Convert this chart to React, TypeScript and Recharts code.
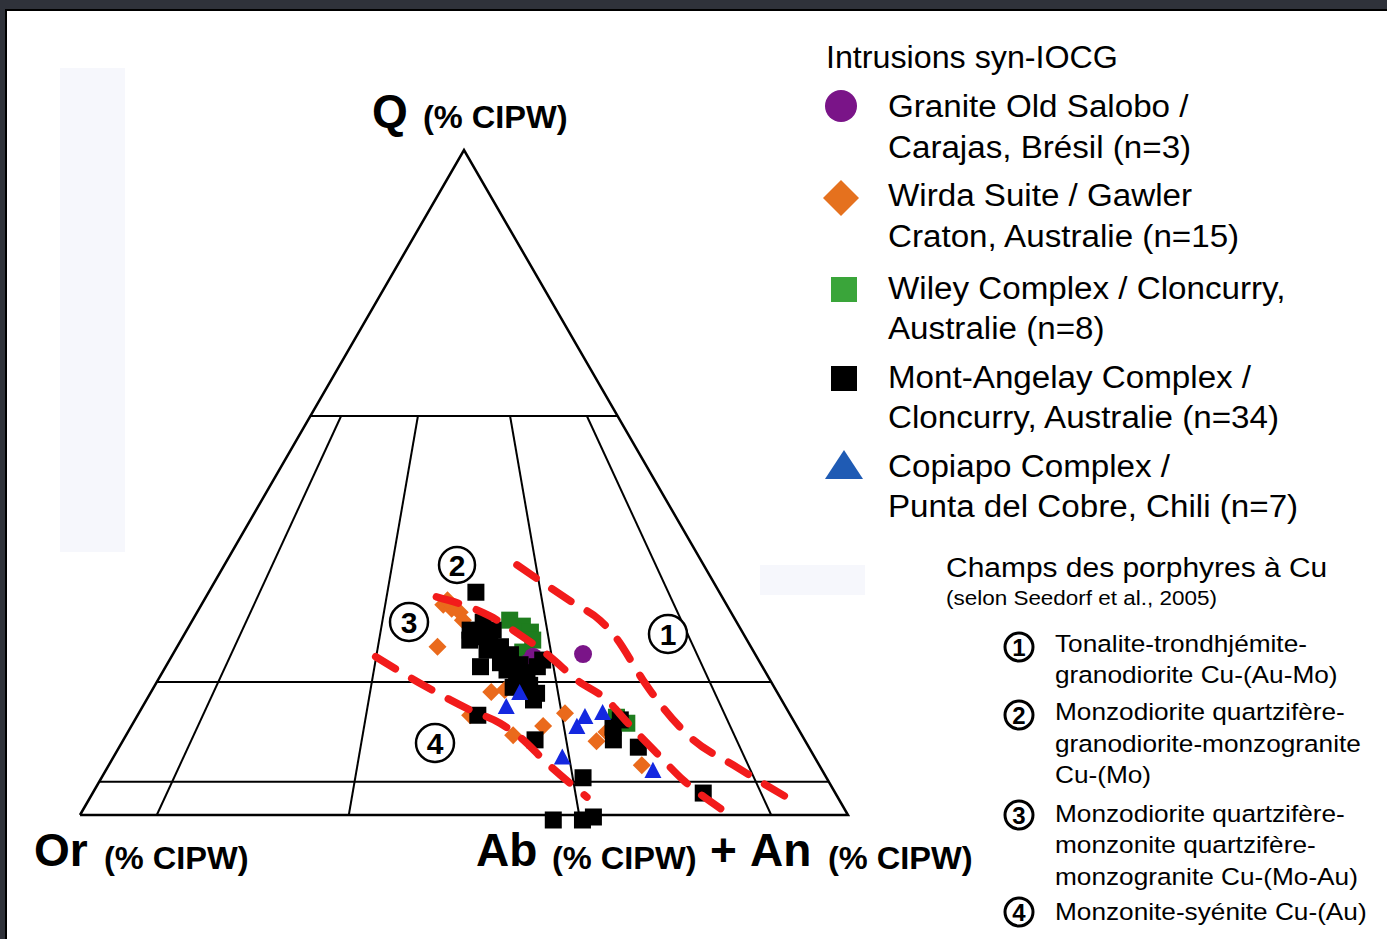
import React from 'react';
import { ScatterChart, Scatter, XAxis, YAxis } from 'recharts';

const W = 1387;
const H = 939;
const FONT = '"Liberation Sans", Arial, sans-serif';

// compositions: [Q %, Ab+An %] (Or = remainder)
const oldSalobo = [[24.2, 53.4], [23.8, 47.1], [22.9, 46.9]];
const wirdaSuite = [
  [31.6, 31.5], [31.0, 32.9], [30.5, 34.2], [29.3, 35.2], [25.3, 33.9],
  [18.5, 44.3], [15.0, 43.3], [12.0, 50.4], [13.4, 53.6], [15.3, 55.5],
  [11.1, 61.7], [7.5, 69.4], [32.3, 31.7], [18.8, 45.9], [12.5, 62.3]
];
const wileyComplex = [
  [29.3, 41.3], [28.4, 43.4], [27.5, 44.9], [26.3, 45.8],
  [24.5, 45.4], [23.0, 45.7], [14.7, 62.5], [13.8, 64.3]
];
const montAngelay = [
  [33.5, 34.8], [27.8, 36.9], [26.8, 38.3], [27.8, 39.9], [25.3, 42.1],
  [24.8, 40.6], [22.3, 41.0], [22.9, 43.3], [21.8, 44.7], [20.3, 46.7],
  [21.4, 47.5], [22.3, 48.4], [23.3, 48.6], [18.8, 48.3], [18.3, 50.3],
  [17.3, 50.4], [19.2, 46.8], [15.0, 44.3], [11.3, 53.6], [5.6, 62.7],
  [-0.75, 62.0], [-0.75, 65.8], [-0.3, 67.0], [13.2, 62.8], [11.3, 63.8],
  [10.2, 67.6], [14.3, 63.2], [3.3, 79.5], [29.0, 38.0], [26.3, 40.2],
  [24.1, 44.0], [22.6, 46.0], [19.5, 48.8], [26.3, 37.6]
];
const copiapo = [
  [18.3, 48.1], [16.2, 47.4], [14.7, 58.4], [13.2, 58.1],
  [15.3, 60.4], [8.6, 58.5], [6.6, 71.3]
];

// porphyry Cu field boundaries (Seedorf et al., 2005)
const boundaryA = [
  [37.6, 38.1], [31.9, 48.25], [29.3, 53.05], [26.8, 56.3], [20.3, 63.15],
  [17.3, 66.5], [11.7, 73.6], [7.2, 81.9], [1.95, 92.1]
];
const boundaryB = [
  [32.8, 30.0], [29.9, 38.45], [27.4, 43.2], [23.8, 49.3], [20.3, 54.55],
  [17.3, 59.95], [14.0, 64.2], [9.3, 70.45], [5.3, 75.85], [0.75, 83.3]
];
const boundaryC = [
  [23.8, 26.6], [19.2, 35.6], [15.8, 42.9], [13.8, 47.8],
  [11.7, 51.45], [7.8, 56.9], [2.7, 64.65]
];

// QAP grid
const qLevels = [60, 20, 5];
const plagRatios = [10, 35, 65, 90];
const ratioTopQ = 60;

const legendTitle = 'Intrusions syn-IOCG';
const legendLabels = [
  ['Granite Old Salobo /', 'Carajas, Brésil (n=3)'],
  ['Wirda Suite / Gawler', 'Craton, Australie (n=15)'],
  ['Wiley Complex / Cloncurry,', 'Australie (n=8)'],
  ['Mont-Angelay Complex /', 'Cloncurry, Australie (n=34)'],
  ['Copiapo Complex /', 'Punta del Cobre, Chili (n=7)']
];
const fieldTitle = 'Champs des porphyres à Cu';
const fieldSource = '(selon Seedorf et al., 2005)';
const fieldLabels = [
  ['Tonalite-trondhjémite-', 'granodiorite Cu-(Au-Mo)'],
  ['Monzodiorite quartzifère-', 'granodiorite-monzogranite', 'Cu-(Mo)'],
  ['Monzodiorite quartzifère-', 'monzonite quartzifère-', 'monzogranite Cu-(Mo-Au)'],
  ['Monzonite-syénite Cu-(Au)']
];

const toXY = (d: number[]) => ({ x: d[1] + d[0] / 2, y: d[0] });

const triangle = [[0, 0], [0, 100], [100, 0], [0, 0]].map(toXY);
const hLines = qLevels.map(q => [toXY([q, 0]), toXY([q, 100 - q])]);
const rLines = plagRatios.map(r => [
  toXY([ratioTopQ, (r / 100) * (100 - ratioTopQ)]),
  toXY([0, r])
]);

// pixel frame of the triangle: Or corner at (80,815), Ab+An at (848,815), Q at y=150
const PX = 7.68;
const PY = 6.65;
const xDomain = [-80 / PX, (W - 80) / PX];
const yDomain = [-(H - 815) / PY, 815 / PY];

const none = () => <g />;
const squareShape = (fill: string, s: number) => (p: any) => (
  <rect x={p.cx - s / 2} y={p.cy - s / 2} width={s} height={s} fill={fill} />
);
const diamondShape = (fill: string, r: number) => (p: any) => (
  <polygon
    points={`${p.cx},${p.cy - r} ${p.cx + r},${p.cy} ${p.cx},${p.cy + r} ${p.cx - r},${p.cy}`}
    fill={fill}
  />
);
const circleShape = (fill: string, r: number) => (p: any) => (
  <circle cx={p.cx} cy={p.cy} r={r} fill={fill} />
);
const triangleShape = (fill: string, s: number) => (p: any) => (
  <polygon
    points={`${p.cx},${p.cy - s * 0.55} ${p.cx + s / 2},${p.cy + s * 0.4} ${p.cx - s / 2},${p.cy + s * 0.4}`}
    fill={fill}
  />
);

const gridLine = { stroke: '#000', strokeWidth: 2 };
const dashLine = {
  stroke: '#f21b1b',
  strokeWidth: 7.5,
  strokeDasharray: '23 19',
  strokeLinecap: 'round' as const
};

const Circled = ({ cx, cy, r, n, fs, sw }: any) => (
  <g>
    <circle cx={cx} cy={cy} r={r} fill="#fff" stroke="#000" strokeWidth={sw} />
    <text x={cx} y={cy + fs * 0.36} textAnchor="middle" fontSize={fs} fontWeight="bold" fontFamily={FONT}>
      {n}
    </text>
  </g>
);

const legendBase = [[117, 158], [206, 247], [299, 339], [388, 428], [477, 517]];
const fieldBase = [[652, 683], [720, 752, 783], [822, 853, 885], [920]];
const fieldCircleY = [647, 715, 815, 912];

export default function App() {
  return (
    <div style={{ position: 'absolute', left: 0, top: 0, width: W, height: H, background: '#fff', overflow: 'hidden' }}>
      <div style={{ position: 'absolute', left: 0, top: 0, width: W, height: 9, background: '#2f323a' }} />
      <div style={{ position: 'absolute', left: 0, top: 9, width: W, height: 2, background: '#000' }} />
      <div style={{ position: 'absolute', left: 0, top: 0, width: 5, height: H, background: '#2f323a' }} />
      <div style={{ position: 'absolute', left: 5, top: 9, width: 2, height: H, background: '#000' }} />
      <div style={{ position: 'absolute', left: 60, top: 68, width: 65, height: 484, background: '#f6f7fc' }} />
      <div style={{ position: 'absolute', left: 760, top: 565, width: 105, height: 30, background: '#f6f7fc' }} />

      <div style={{ position: 'absolute', left: 0, top: 0 }}>
        <ScatterChart width={W} height={H} margin={{ top: 0, right: 0, bottom: 0, left: 0 }}>
          <XAxis type="number" dataKey="x" domain={xDomain} allowDataOverflow hide />
          <YAxis type="number" dataKey="y" domain={yDomain} allowDataOverflow hide />
          <Scatter data={triangle} line={{ stroke: '#000', strokeWidth: 2.5 }} shape={none} isAnimationActive={false} />
          {hLines.map((d, i) => (
            <Scatter key={'h' + i} data={d} line={gridLine} shape={none} isAnimationActive={false} />
          ))}
          {rLines.map((d, i) => (
            <Scatter key={'r' + i} data={d} line={gridLine} shape={none} isAnimationActive={false} />
          ))}
          <Scatter data={wirdaSuite.map(toXY)} shape={diamondShape('#ea6a1c', 9)} isAnimationActive={false} />
          <Scatter data={wileyComplex.map(toXY)} shape={squareShape('#1e7d1e', 17)} isAnimationActive={false} />
          <Scatter data={oldSalobo.map(toXY)} shape={circleShape('#7a1488', 9)} isAnimationActive={false} />
          <Scatter data={montAngelay.map(toXY)} shape={squareShape('#000', 17)} isAnimationActive={false} />
          <Scatter data={copiapo.map(toXY)} shape={triangleShape('#1428e0', 17)} isAnimationActive={false} />
          <Scatter data={boundaryA.map(toXY)} line={dashLine} lineJointType="monotoneX" shape={none} isAnimationActive={false} />
          <Scatter data={boundaryB.map(toXY)} line={dashLine} lineJointType="monotoneX" shape={none} isAnimationActive={false} />
          <Scatter data={boundaryC.map(toXY)} line={dashLine} lineJointType="monotoneX" shape={none} isAnimationActive={false} />
        </ScatterChart>
      </div>

      <svg width={W} height={H} style={{ position: 'absolute', left: 0, top: 0, pointerEvents: 'none' }}>
        {/* apex and corner labels */}
        <g fontFamily={FONT} fontWeight="bold" fill="#000">
          <text x={372} y={127} fontSize={46}>Q</text>
          <g transform="translate(423,128) scale(1.05,1)"><text x={0} y={0} fontSize={31}>(% CIPW)</text></g>
          <text x={34} y={866} fontSize={46}>Or</text>
          <g transform="translate(104,869) scale(1.05,1)"><text x={0} y={0} fontSize={31}>(% CIPW)</text></g>
          <text x={476} y={866} fontSize={46}>Ab</text>
          <g transform="translate(552,869) scale(1.05,1)"><text x={0} y={0} fontSize={31}>(% CIPW)</text></g>
          <text x={710} y={866} fontSize={46}>+</text>
          <text x={750} y={866} fontSize={46}>An</text>
          <g transform="translate(828,869) scale(1.05,1)"><text x={0} y={0} fontSize={31}>(% CIPW)</text></g>
        </g>

        <Circled cx={668} cy={634} r={19} n="1" fs={30} sw={2.5} />
        <Circled cx={457} cy={565} r={18} n="2" fs={30} sw={2.5} />
        <Circled cx={409} cy={622} r={19} n="3" fs={30} sw={2.5} />
        <Circled cx={435} cy={743} r={19} n="4" fs={30} sw={2.5} />

        {/* series legend */}
        <circle cx={841} cy={106} r={16} fill="#7a1488" />
        <polygon points="841,180 859,198 841,216 823,198" fill="#e5711e" />
        <rect x={831} y={277} width={26} height={25} fill="#3aa53a" />
        <rect x={831} y={366} width={26} height={25} fill="#000" />
        <polygon points="844,450 863,479 825,479" fill="#1f5bb4" />
        <g transform="translate(826,0) scale(1.04,1)">
          <text x={0} y={68} fontSize={31} fontFamily={FONT}>{legendTitle}</text>
        </g>
        <g transform="translate(888,0) scale(1.07,1)" fontFamily={FONT} fontSize={31}>
          {legendLabels.map((lines, i) =>
            lines.map((t, j) => (
              <text key={i + '-' + j} x={0} y={legendBase[i][j]}>{t}</text>
            ))
          )}
        </g>

        {/* porphyry field legend */}
        <g transform="translate(946,0) scale(1.07,1)" fontFamily={FONT}>
          <text x={0} y={577} fontSize={28}>{fieldTitle}</text>
          <text x={0} y={605} fontSize={21}>{fieldSource}</text>
        </g>
        {fieldCircleY.map((y, i) => (
          <Circled key={i} cx={1019} cy={y} r={14} n={String(i + 1)} fs={24} sw={3} />
        ))}
        <g transform="translate(1055,0) scale(1.07,1)" fontFamily={FONT} fontSize={24.5}>
          {fieldLabels.map((lines, i) =>
            lines.map((t, j) => (
              <text key={i + '-' + j} x={0} y={fieldBase[i][j]}>{t}</text>
            ))
          )}
        </g>
      </svg>
    </div>
  );
}
